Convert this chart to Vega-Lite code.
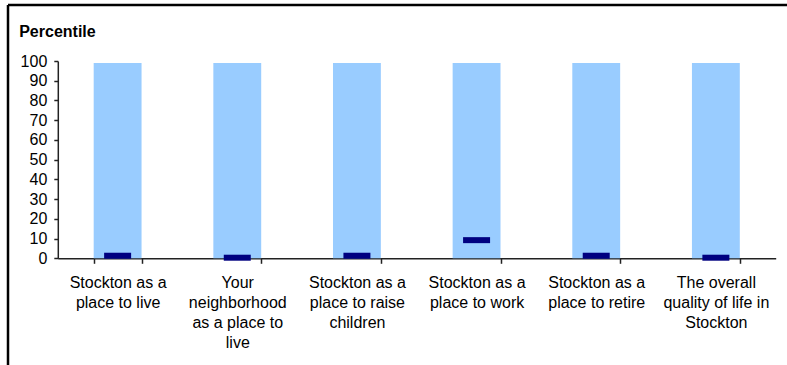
{
  "$schema": "https://vega.github.io/schema/vega-lite/v6.json",
  "width": 779,
  "height": 360,
  "autosize": {"type": "none"},
  "padding": {"left": 8, "top": 5, "right": 0, "bottom": 0},
  "background": "white",
  "config": {
    "font": "Liberation Sans",
    "view": {
      "fill": "white",
      "stroke": "black",
      "strokeWidth": 2.5,
      "strokeDash": [779, 1139, 360, 0]
    }
  },
  "data": {
    "values": [
      {"item": "Stockton as a place to live", "low": 0, "high": 99, "score": 1.3},
      {"item": "Your neighborhood as a place to live", "low": 0, "high": 99, "score": 0.3},
      {"item": "Stockton as a place to raise children", "low": 0, "high": 99, "score": 1.3},
      {"item": "Stockton as a place to work", "low": 0, "high": 99, "score": 9.2},
      {"item": "Stockton as a place to retire", "low": 0, "high": 99, "score": 1.3},
      {"item": "The overall quality of life in Stockton", "low": 0, "high": 99, "score": 0.3}
    ]
  },
  "encoding": {
    "x": {
      "field": "item",
      "type": "nominal",
      "sort": null,
      "scale": {"range": [49.8, 767.7], "paddingInner": 0.6, "paddingOuter": 0.3},
      "axis": {
        "title": null,
        "orient": "bottom",
        "offset": -106.7,
        "tickBand": "extent",
        "tickSize": 5,
        "tickWidth": 1.5,
        "tickColor": "#222222",
        "domainColor": "#222222",
        "domainWidth": 1.5,
        "labelAngle": 0,
        "labelFont": "Liberation Sans",
        "labelFontSize": 16,
        "labelColor": "black",
        "labelLineHeight": 20,
        "labelPadding": 11,
        "labelBaseline": "top",
        "labelOverlap": false,
        "labelLimit": 0,
        "labelExpr": "{'Stockton as a place to live': ['Stockton as a', 'place to live'], 'Your neighborhood as a place to live': ['Your', 'neighborhood', 'as a place to', 'live'], 'Stockton as a place to raise children': ['Stockton as a', 'place to raise', 'children'], 'Stockton as a place to work': ['Stockton as a', 'place to work'], 'Stockton as a place to retire': ['Stockton as a', 'place to retire'], 'The overall quality of life in Stockton': ['The overall', 'quality of life in', 'Stockton']}[datum.label]"
      }
    }
  },
  "layer": [
    {
      "mark": {"type": "bar", "color": "#99CCFF"},
      "encoding": {
        "y": {
          "field": "low",
          "type": "quantitative",
          "scale": {"domain": [0, 100], "range": [253.3, 56], "nice": false},
          "axis": {
            "title": "Percentile",
            "titleAngle": 0,
            "titleAlign": "left",
            "titleBaseline": "alphabetic",
            "titleX": -39.1,
            "titleY": 31.7,
            "titleFont": "Liberation Sans",
            "titleFontSize": 16,
            "titleFontWeight": "bold",
            "titleColor": "black",
            "values": [0, 10, 20, 30, 40, 50, 60, 70, 80, 90, 100],
            "tickCount": 11,
            "labelOverlap": false,
            "grid": false,
            "offset": -49.8,
            "domainColor": "#222222",
            "domainWidth": 1.5,
            "tickColor": "#222222",
            "tickWidth": 1.5,
            "tickSize": 4,
            "labelPadding": 7,
            "labelFont": "Liberation Sans",
            "labelFontSize": 16,
            "labelColor": "black"
          }
        },
        "y2": {"field": "high"}
      }
    },
    {
      "mark": {"type": "tick", "color": "#000080", "opacity": 1, "size": 27, "thickness": 6},
      "encoding": {
        "y": {
          "field": "score",
          "type": "quantitative",
          "axis": {
            "title": "Percentile",
            "titleAngle": 0,
            "titleAlign": "left",
            "titleBaseline": "alphabetic",
            "titleX": -39.1,
            "titleY": 31.7,
            "titleFont": "Liberation Sans",
            "titleFontSize": 16,
            "titleFontWeight": "bold",
            "titleColor": "black",
            "values": [0, 10, 20, 30, 40, 50, 60, 70, 80, 90, 100],
            "tickCount": 11,
            "labelOverlap": false,
            "grid": false,
            "offset": -49.8,
            "domainColor": "#222222",
            "domainWidth": 1.5,
            "tickColor": "#222222",
            "tickWidth": 1.5,
            "tickSize": 4,
            "labelPadding": 7,
            "labelFont": "Liberation Sans",
            "labelFontSize": 16,
            "labelColor": "black"
          }
        }
      }
    }
  ]
}
